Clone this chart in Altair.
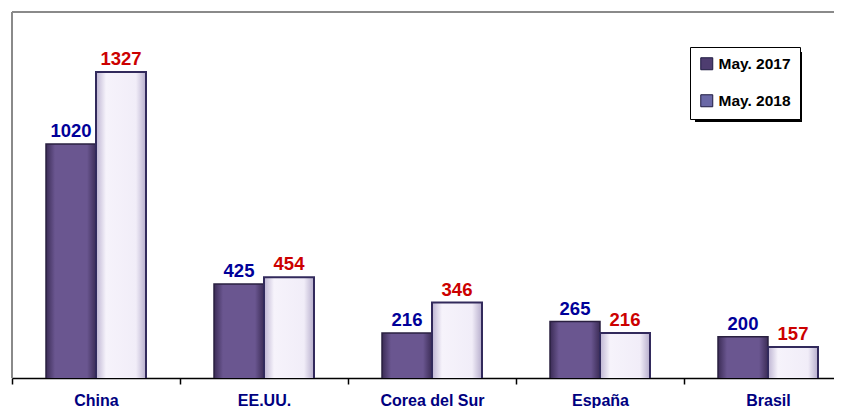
import altair as alt
import pandas as pd

countries = ["China", "EE.UU.", "Corea del Sur", "España", "Brasil"]
may2017 = [1020, 425, 216, 265, 200]
may2018 = [1327, 454, 346, 216, 157]
series = ["May. 2017", "May. 2018"]

rows = []
for c, a, b in zip(countries, may2017, may2018):
    rows.append({"country": c, "series": series[0], "value": a})
    rows.append({"country": c, "series": series[1], "value": b})
df = pd.DataFrame(rows)
d17 = df[df.series == series[0]]
d18 = df[df.series == series[1]]

FONT = "Liberation Sans"

x_enc = alt.X("country:N", sort=countries,
              scale=alt.Scale(range=[0, 840], paddingInner=0, paddingOuter=0),
              axis=alt.Axis(title=None, labelAngle=0, labelFont=FONT, labelFontSize=16,
                            labelFontWeight="bold", labelColor="#000080", labelPadding=8,
                            domainColor="black", domainWidth=1.5, tickColor="black",
                            tickSize=6, tickWidth=1.5, tickBand="extent", grid=False))
y_enc = alt.Y("value:Q", scale=alt.Scale(domain=[25, 1582], nice=False, zero=False), axis=None)
xo_enc = alt.XOffset("series:N", sort=series,
                     scale=alt.Scale(domain=series, paddingInner=0, paddingOuter=0.68))

grad17 = alt.Gradient(gradient="linear", x1=0, x2=1, y1=0, y2=0, stops=[
    alt.GradientStop(color="#3b2c56", offset=0),
    alt.GradientStop(color="#6a5690", offset=0.18),
    alt.GradientStop(color="#6a5690", offset=0.82),
    alt.GradientStop(color="#3b2c56", offset=1)])
grad18 = alt.Gradient(gradient="linear", x1=0, x2=1, y1=0, y2=0, stops=[
    alt.GradientStop(color="#bdb4d2", offset=0),
    alt.GradientStop(color="#f6f3fb", offset=0.2),
    alt.GradientStop(color="#f1edf8", offset=0.8),
    alt.GradientStop(color="#b6adcc", offset=1)])

one = pd.DataFrame({"a": [0]})
border_top = alt.Chart(one).mark_rule(color="#8a8a8a", strokeWidth=2).encode(
    x=alt.value(0), x2=alt.value(822), y=alt.value(0))
border_left = alt.Chart(one).mark_rule(color="#8a8a8a", strokeWidth=2).encode(
    x=alt.value(0), y=alt.value(0), y2=alt.value(366))
shadow = alt.Chart(one).mark_rect(color="black").encode(
    x=alt.value(683), x2=alt.value(790), y=alt.value(40), y2=alt.value(110))

bars17 = alt.Chart(d17).mark_bar(fill=grad17, stroke="#2a2040", strokeWidth=1.5, clip=True).encode(
    x=x_enc, y=y_enc, xOffset=xo_enc)
bars18 = alt.Chart(d18).mark_bar(fill=grad18, stroke="#322a5c", strokeWidth=2, clip=True).encode(
    x=x_enc, y=y_enc, xOffset=xo_enc)

txt17 = alt.Chart(d17).mark_text(font=FONT, fontSize=18.5, fontWeight="bold", color="#000099",
                                 baseline="bottom", dy=-3).encode(
    x=x_enc, y=y_enc, xOffset=xo_enc, text="value:Q")
txt18 = alt.Chart(d18).mark_text(font=FONT, fontSize=18.5, fontWeight="bold", color="#cc0000",
                                 baseline="bottom", dy=-3).encode(
    x=x_enc, y=y_enc, xOffset=xo_enc, text="value:Q")

legend_layer = alt.Chart(df).mark_square(opacity=0, size=120).encode(
    x=x_enc, y=y_enc, xOffset=xo_enc,
    color=alt.Color("series:N", sort=series,
                    scale=alt.Scale(domain=series, range=["#4e3d70", "#6a68a6"]),
                    legend=alt.Legend(title=None, orient="none", legendX=678, legendY=35,
                                      fillColor="white", strokeColor="black",
                                      padding=9, symbolType="square", symbolSize=144,
                                      symbolOpacity=1, symbolStrokeColor="#1e1a40",
                                      symbolStrokeWidth=1, labelFont=FONT, labelFontSize=15.5,
                                      labelFontWeight="bold", labelColor="black",
                                      rowPadding=19, labelOffset=4)))

chart = alt.layer(border_top, border_left, shadow, bars17, bars18, txt17, txt18,
                  legend_layer).properties(
    width=822, height=366,
    autosize=alt.AutoSizeParams(type="none"),
    padding={"left": 4, "top": 4, "right": 0, "bottom": 30},
    background="white",
).configure_view(strokeWidth=0)

chart.save("out.html", embed_options={"renderer": "svg", "actions": False})
